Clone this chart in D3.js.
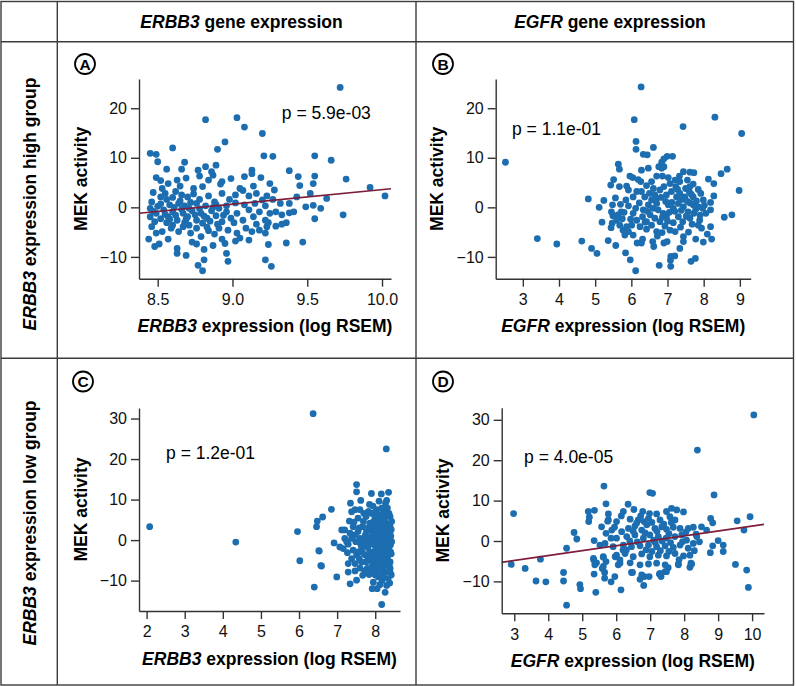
<!DOCTYPE html>
<html>
<head>
<meta charset="utf-8">
<script src="https://cdn.jsdelivr.net/npm/d3@7/dist/d3.min.js"></script>
<style>
html,body{margin:0;padding:0;background:#fff;}
svg{display:block;font-family:"Liberation Sans",Arial,Helvetica,sans-serif;}
</style>
</head>
<body>
<svg id="chart" width="796" height="686"></svg>
<script>
// ---------------- DATA ----------------
const colHeaders = ["ERBB3", "EGFR"];           // italic gene + " gene expression"
const rowHeaders = ["high", "low"];             // "ERBB3 expression <x> group"

// Panel A: ERBB3 high group, x = ERBB3 expression
const aPts = [
[9.72,24.2],[8.82,17.7],[9.03,18.1],[9.08,16.2],[9.20,14.9],
[8.95,13.2],[8.60,12.0],[8.90,11.7],[8.45,10.9],[8.49,10.7],[9.21,10.4],[9.27,10.3],[9.55,10.4],[9.66,9.5],[8.50,9.2],[8.68,9.1],[8.56,7.7],[8.66,7.7],[8.77,7.5],[8.82,8.2],[8.89,8.5],[9.13,7.5],[9.38,7.4],[8.86,7.2],
[8.49,6.0],[8.52,5.4],[8.63,5.5],[8.69,5.9],[8.78,6.3],[8.84,5.5],[8.87,6.5],[8.93,5.2],[8.99,5.8],[9.08,6.2],[9.13,6.8],[9.19,6.0],[9.25,4.8],[9.44,6.2],[9.55,6.3],[9.76,5.7],[9.54,4.8],[9.45,4.4],[9.92,4.0],[8.57,4.8],[8.65,4.3],[8.74,3.8],[8.80,4.2],[8.92,4.7],[9.05,3.8],[9.14,4.3],[8.53,3.8],[8.47,3.0],[9.28,3.5],
[10.02,2.3],[9.52,2.8],[9.63,1.8],[9.54,0.4],[9.49,0.1],[8.52,2.1],[8.56,1.6],[8.60,2.0],[8.65,1.3],[8.70,2.1],[8.74,2.7],[8.78,1.6],[8.84,2.3],[8.88,1.1],[8.93,2.8],[8.98,1.6],[9.02,2.5],[9.07,3.4],[9.11,2.3],[9.16,2.8],[9.20,1.5],[9.23,2.3],[9.27,1.6],[9.32,0.8],[8.52,0.7],[8.58,0.5],[8.64,0.8],[8.68,0.3],[8.76,0.8],[8.82,0.3],[8.89,0.6],[8.96,0.3],[9.02,0.9],[9.08,0.5],[9.15,0.8],[9.22,0.3],[8.46,1.1],[9.38,0.8],[9.43,2.1],
[8.45,-0.2],[8.45,-1.9],[8.49,-1.2],[8.54,-0.5],[8.57,-1.9],[8.60,-0.9],[8.63,-2.6],[8.67,-1.2],[8.70,-1.9],[8.73,-0.7],[8.76,-2.6],[8.79,-1.2],[8.83,-2.2],[8.86,-0.7],[8.89,-1.7],[8.93,-2.9],[8.96,-0.9],[8.99,-2.2],[9.03,-1.2],[9.07,-2.6],[9.11,-0.5],[9.14,-1.9],[9.18,-0.9],[9.22,-2.6],[9.25,-1.2],[9.29,-0.9],[9.33,-1.5],[9.38,-1.1],[9.41,-0.9],[9.59,-0.2],[9.55,-2.3],[9.74,-1.5],[9.36,-3.1],[9.33,-3.4],[8.48,-2.9],[8.56,-3.1],[8.68,-3.1],[8.80,-3.2],[8.90,-3.4],[9.01,-3.1],[9.16,-3.4],[9.24,-3.1],
[8.49,-5.2],[8.53,-4.9],[8.57,-6.4],[8.44,-6.4],[8.59,-4.2],[8.64,-4.9],[8.67,-3.9],[8.72,-5.2],[8.76,-4.2],[8.79,-5.9],[8.84,-4.7],[8.88,-5.4],[8.91,-4.2],[8.93,-6.4],[8.97,-4.6],[9.03,-5.2],[9.05,-6.2],[9.09,-4.2],[9.13,-4.9],[9.18,-4.6],[9.23,-3.9],[9.22,-5.2],[9.29,-3.8],
[8.48,-7.9],[8.51,-7.4],[8.63,-8.3],[8.63,-9.3],[8.69,-9.7],[8.73,-7.0],[8.76,-7.4],[8.81,-8.5],[8.81,-10.6],[8.80,-12.8],[8.77,-11.7],[8.87,-7.7],[8.95,-7.3],[8.97,-10.9],[8.96,-9.3],[9.02,-6.8],[9.11,-6.6],[9.24,-7.5],[9.22,-10.6],[9.26,-11.9],[9.36,-7.2],[9.47,-7.0],
[8.47,-0.8],[8.50,0.2],[8.55,-1.4],[8.58,-2.4],[8.61,0.0],[8.62,-1.6],[8.66,-0.4],[8.69,-2.4],[8.71,-0.2],[8.72,1.0],[8.75,-1.5],[8.78,-0.3],[8.81,-1.8],[8.85,-2.8],[8.87,0.0],[8.91,-0.2],[8.94,-1.6],[8.55,2.8],[8.62,3.2],[8.71,-3.6],[8.83,-4.0],[8.60,-3.6],[8.52,-2.3],[8.66,2.5],[8.46,-3.9]
];

// Panel B: ERBB3 high group, x = EGFR expression
const bPts = [
[2.52,9.1],[3.40,-6.3],[3.94,-7.4],[4.63,-6.8],[4.90,-8.3],[5.05,-9.3],[4.81,1.7],[5.11,0.0],[5.24,1.4],[5.19,-3.0],[5.36,-6.7],[5.57,-7.7],[5.84,-9.2],[5.97,-10.6],[6.12,-12.8],[6.27,24.3],[6.08,17.7],[7.43,16.3],[8.31,18.2],[9.05,14.9],[8.98,3.4],[8.57,-2.0],[8.78,-1.5],[8.48,6.8],[8.65,7.7],[8.13,5.7],[8.28,4.8],[8.28,2.3],[8.19,1.0],[7.99,1.5],[8.19,-0.5],[8.19,-3.9],[8.10,-5.4],[8.22,-6.4],[7.99,-7.0],[7.78,-6.4],[7.77,-10.3],[7.65,-10.9],[7.09,-9.9],[7.20,-9.8],[7.08,-10.7],[7.09,-11.9],[6.77,-11.7],[6.13,13.3],[6.13,11.7],[6.61,12.1],[6.33,10.7],[6.44,10.6],[6.99,10.3],[7.14,10.3],[6.90,9.8],[6.84,9.1],[6.76,8.2],[5.64,8.7],[5.67,7.7],[6.28,7.5],[6.47,7.9],[5.51,5.6],[5.43,4.5],[5.67,4.2],[5.56,1.9],[5.48,0.5],[5.45,-0.9],[5.49,-1.7],[5.47,-3.2],[5.44,-4.1],[5.72,-0.9],[5.75,-2.3],[5.68,-3.6],[5.77,-4.6],[5.82,-5.6],[5.87,-3.9],[5.92,-4.9],[5.85,1.5],[5.92,0.3],[5.96,6.3],[6.04,6.0],[6.19,5.6],[6.26,5.2],[5.87,4.3],[5.92,3.5],[6.15,3.2],[6.28,3.2],[6.42,4.4],[6.56,5.2],[6.70,6.3],[6.86,6.3],[7.02,6.0],[7.21,5.5],[7.33,6.3],[7.44,7.2],[7.62,7.1],[7.73,7.0],[7.55,5.5],[7.71,4.7],[7.85,3.6],[7.92,2.8],[7.97,-0.2],[8.06,-1.2],[7.89,-2.6],[7.85,-3.6],[7.62,-2.2],[7.44,-5.9],[7.44,-6.9],[7.34,-8.3],[6.99,-6.9],[6.90,-7.2],[6.59,-6.9],[6.62,-7.9],[6.31,-6.4],[6.16,-7.2],[6.28,-7.2],[6.85,-5.1],[6.42,-4.4],[6.24,-3.9],[6.05,-1.2],[6.15,-2.6],[6.33,-0.5],[6.47,0.5],[6.56,1.5],[6.65,2.5],[6.79,3.5],[6.90,4.2],[6.97,2.5],[7.11,3.2],[7.23,4.2],[7.34,2.8],[7.48,2.1],[7.60,3.2],[7.71,2.1],[7.80,1.3],[7.62,0.9],[7.44,0.1],[7.30,0.8],[7.16,-0.2],[7.02,0.5],[6.88,-1.2],[6.74,-0.5],[6.65,-2.2],[6.52,-1.5],[6.42,-2.9],[6.79,-2.9],[6.97,-1.9],[7.16,-3.1],[7.30,-1.9],[7.42,-2.9],[7.57,-0.9],[7.73,-1.2],[7.07,-4.6],[7.21,-4.9],[6.93,-3.8],[6.70,-4.9],[6.56,-3.6],[6.31,-1.9],[6.22,0.9],[6.05,2.1],[6.37,2.1],[6.70,0.8],[7.25,2.1],[7.71,0.5],[7.85,0.1],[6.61,3.8],[7.07,4.8],[7.34,5.2],[7.62,4.2],[6.84,7.9],[6.90,8.2],[5.59,-2.6],[5.63,-1.5],[6.01,-3.6],[6.05,-5.6],[7.94,-4.2],
[6.45,-0.8],[6.60,-0.2],[6.68,1.6],[6.82,2.0],[6.95,1.2],[7.05,-1.0],[7.12,1.0],[7.20,-0.8],[7.38,-0.6],[7.40,1.6],[7.52,-1.8],[7.55,1.2],[7.66,2.6],[7.78,-0.4],[6.50,2.8],[6.86,-2.0],[7.00,-2.8],[7.28,3.6],[7.50,3.8],[7.68,-3.4],[6.38,-3.0],[6.12,-0.2],[5.98,-2.4],[5.80,-1.0],[5.70,0.6],[7.90,-1.6],[8.02,0.4],[7.36,-4.0],[6.72,-5.8],[7.58,-5.0]
];

// Panel C: ERBB3 low group, x = ERBB3 expression
const cPts = [
[2.08,3.3],[4.34,-0.5],[6.37,31.2],[8.29,22.5],[5.96,2.1],[6.02,-5.1],[6.40,-11.6],[6.57,-6.3],[6.52,-2.6],[6.46,3.3],[6.48,4.7],[6.62,5.7],[6.85,7.6],[6.99,-9.1],[6.92,-0.7],[7.51,13.7],[7.51,11.9],[7.90,11.5],[8.35,11.8],[8.27,9.1],[7.35,9.1],[8.17,-15.9],[8.05,-12.0],[8.26,-12.9],[8.30,-11.2],[7.34,-10.8],[7.51,-9.9],[7.67,-8.7],[7.84,-8.5],[7.95,-10.4],[7.29,-7.9],[7.47,-7.6],[7.60,-6.9],[7.29,-5.8],[7.07,-1.7],[7.12,2.5],[7.20,2.5],[7.32,4.7],[7.38,7.0],[7.47,7.5],[7.60,7.5],[7.55,5.4],[7.42,3.3],[7.20,0.4],[7.16,-2.1],[7.27,-3.1],[7.38,-4.6],[7.51,-3.7],[7.64,-1.7],[7.73,0.4],[7.77,2.1],[7.86,4.2],[7.90,6.6],[8.04,7.5],[8.17,7.9],[8.24,7.1],[8.39,5.8],[8.43,4.6],[8.39,2.1],[8.43,-0.4],[8.40,-2.9],[8.39,-5.4],[8.39,-7.9],[8.34,-9.5],[8.21,-7.0],[8.08,-5.8],[8.12,-3.7],[8.17,-1.7],[8.21,0.8],[8.12,2.9],[8.05,5.0],[7.95,1.3],[7.99,-1.2],[7.86,-2.9],[7.90,-5.0],[7.77,-5.4],[7.73,-3.6],[7.60,0.4],[7.67,3.3],[7.76,5.8],[8.30,3.3],[8.32,0.8],[8.30,-1.7],[8.28,-4.1],[8.26,-6.2],[8.02,-7.5],[7.93,-6.2],[7.79,-7.0],[8.08,-9.1],[8.21,-9.1],[7.29,-1.0],[7.38,0.4],[7.49,-0.4],[7.55,-2.9],[7.42,-2.5],[7.86,-0.4],[8.05,0.4],[8.17,2.1],[7.97,3.3],[7.86,2.5],[8.25,4.6],[8.32,7.9],[8.12,6.2],[8.02,-2.1],[8.10,-2.7],[8.21,-2.5],[8.34,-1.7],[8.34,-3.7],[8.39,-7.0],[7.95,-2.9],[8.05,-4.7],[8.17,-5.0],[8.24,-0.4],[8.34,0.8],[8.39,3.3],[8.28,5.8],[8.08,4.2],[7.99,5.8],[7.82,7.1],[7.69,4.6],[7.55,2.1],[7.47,1.3],[7.34,1.7],[7.25,-0.4],[7.64,-5.4],[7.47,-5.8],[6.53,-2.7],[6.59,-6.4],
[7.62,-1.0],[7.70,-0.6],[7.74,1.2],[7.80,-1.8],[7.82,0.8],[7.84,3.2],[7.88,-4.2],[7.90,-1.0],[7.92,0.2],[7.94,2.0],[7.96,4.6],[7.98,-3.6],[8.00,-0.6],[8.01,1.8],[8.03,-5.4],[8.04,3.0],[8.06,-1.4],[8.07,0.9],[8.09,-3.0],[8.10,1.6],[8.11,-6.6],[8.13,-0.2],[8.14,3.6],[8.15,-4.3],[8.16,0.2],[8.18,-2.2],[8.19,5.2],[8.20,-1.0],[8.22,2.6],[8.23,-3.3],[8.24,1.4],[8.25,-5.6],[8.27,-1.4],[8.28,0.0],[8.29,2.2],[8.30,-2.8],[8.31,4.0],[8.32,-4.8],[8.33,-0.8],[8.35,1.8],[8.36,-2.4],[8.37,-6.4],[8.38,0.4],[8.40,-1.2],[8.41,1.0],[8.42,-3.4],[8.36,6.6],[8.26,-8.0],[8.14,-7.6],[8.00,-8.6],[8.18,-10.0],[7.88,-8.0],[7.72,-7.6],[7.98,6.8],[8.10,9.6],[7.85,8.8],[7.70,6.6],[7.58,-4.6],[7.66,-3.0],[7.80,-4.8],[7.92,-6.8],[8.06,-6.0],[8.20,-5.0],[8.34,-5.4],[8.42,-8.6],[8.12,-11.0],[7.92,-12.0],[8.38,-10.6],[7.44,4.4],[7.58,3.0],[7.70,-1.4],[8.08,-0.8],[8.26,0.6],[8.42,2.6],[8.22,7.0],[7.94,8.4],[8.30,9.8],[8.16,11.4],[7.62,9.8]
];

// Panel D: ERBB3 low group, x = EGFR expression
const dPts = [
[10.05,31.2],[8.39,22.5],[5.64,13.6],[6.99,12.0],[7.07,11.8],[8.88,11.4],[2.98,6.8],[5.70,9.2],[6.35,9.1],[5.18,7.3],[5.36,7.6],[5.19,4.8],[5.21,5.9],[5.77,6.7],[5.75,4.9],[6.01,4.8],[5.57,3.5],[4.76,2.1],[4.84,0.5],[5.35,0.1],[5.52,-1.0],[5.70,1.9],[5.85,0.7],[4.54,-1.8],[3.77,-4.5],[3.32,-6.8],[2.91,-5.8],[3.64,-9.9],[3.93,-10.1],[4.45,-7.8],[4.45,-9.9],[4.54,-15.9],[4.93,-10.8],[4.95,-11.8],[5.40,-12.7],[5.34,-4.7],[5.37,-5.9],[5.42,-5.4],[5.35,-8.2],[5.62,-3.9],[5.70,-5.1],[5.59,-6.8],[5.66,-7.8],[5.66,-9.2],[5.85,-10.1],[5.96,-8.8],[6.14,-12.1],[5.97,-3.9],[6.11,-4.7],[6.06,-5.9],[6.48,-7.8],[6.70,-9.5],[6.81,-11.0],[6.83,-8.8],[6.97,-8.8],[7.27,-8.2],[7.32,-8.8],[7.44,-7.6],[7.53,-6.6],[7.83,-5.9],[8.20,-5.5],[8.17,-6.5],[8.77,-2.9],[8.84,-1.2],[9.00,0.1],[9.15,-1.0],[9.15,-2.6],[9.51,-5.8],[9.84,-7.2],[9.89,-11.5],[9.76,2.7],[9.56,5.0],[9.94,6.0],[8.78,5.6],[8.84,4.5],[8.51,3.5],[8.66,2.7],[8.35,1.7],
[6.21,7.3],[6.52,7.8],[6.78,7.3],[7.19,6.7],[7.48,7.3],[7.63,8.1],[7.78,7.7],[7.98,7.2],[7.58,6.0],[5.77,5.2],[6.41,5.4],[6.65,5.2],[6.95,5.6],[7.29,5.2],[7.73,5.2],[5.87,2.7],[6.16,2.3],[6.36,3.1],[6.55,3.7],[6.75,2.7],[6.90,4.0],[7.14,3.1],[7.34,3.5],[7.48,2.9],[7.68,3.4],[7.88,3.1],[8.12,3.1],[8.27,3.4],[6.01,0.7],[6.31,1.1],[6.55,1.5],[6.80,0.7],[6.99,1.5],[7.24,1.1],[7.47,0.7],[7.73,1.1],[7.93,1.5],[8.07,0.2],[8.37,1.1],[5.67,-0.6],[5.91,-1.4],[6.21,-1.0],[6.45,-1.4],[6.70,-1.2],[6.95,-1.0],[7.19,-1.4],[7.44,-1.2],[7.68,-1.6],[7.88,-1.0],[8.12,-1.8],[8.27,-0.6],[6.01,-3.5],[6.26,-3.1],[6.50,-3.9],[6.75,-3.2],[6.99,-3.9],[7.24,-3.5],[7.48,-3.7],[7.73,-3.1],[7.98,-3.7],[8.17,-3.5],[5.33,-4.3],[5.62,-4.0],[6.11,-5.5],[6.41,-5.4],[6.70,-5.9],[6.95,-5.7],[7.19,-5.5],[7.44,-5.9],[7.83,-5.7],[8.22,-5.7],[5.62,-6.3],[6.45,-7.8],[6.75,-8.4],[7.29,-8.0],[7.48,-7.6],
[6.60,4.4],[6.85,2.0],[7.05,4.6],[7.10,0.2],[7.20,2.4],[7.35,0.0],[7.40,4.2],[7.55,1.8],[7.60,-0.4],[6.40,0.0],[6.62,-0.2],[6.88,-2.2],[7.05,-2.6],[7.30,-2.4],[7.55,-2.6],[6.30,-2.2],[6.50,2.4],[6.72,6.2],[6.98,6.8],[7.15,-0.4],[6.82,4.8],[7.62,4.6],[7.95,-0.2],[8.05,2.2],[8.30,-2.4],[8.45,-0.2],[6.15,6.2],[5.95,3.4],[6.20,-2.2],[7.85,-4.6]
];

// regression lines [slope, intercept] (only A and D are drawn)
const regA = [2.94, -25.82];
const regD = [1.218, -8.48];

const pValues = ["p = 5.9e-03", "p = 1.1e-01", "p = 1.2e-01", "p = 4.0e-05"];
const pPositions = [[9.33, 17.8], [2.70, 14.6], [2.51, 19.9], [3.29, 19.2]]; // data coords (left, baseline)

const aXTicks = [8.5, 9.0, 9.5, 10.0];
const bXTicks = [3, 4, 5, 6, 7, 8, 9];
const cXTicks = [2, 3, 4, 5, 6, 7, 8];
const dXTicks = [3, 4, 5, 6, 7, 8, 9, 10];
const topYTicks = [-10, 0, 10, 20];
const bottomYTicks = [-10, 0, 10, 20, 30];

// ---------------- LAYOUT ----------------
const svg = d3.select("#chart");
const FONT = '"Liberation Sans", Arial, Helvetica, sans-serif';
const LINE = "#3c3c3c";
const DOT = "#1c6eb0";
const REG = "#7d1d3a";

// table grid
const gx0 = 1, gx1 = 57.3, gx2 = 416, gx3 = 793.5;
const gy0 = 1.5, gy1 = 41.7, gy2 = 358.3, gy3 = 685;
const grid = svg.append("g").attr("stroke", LINE).attr("stroke-width", 1.4).attr("fill", "none");
grid.append("rect").attr("x", gx0).attr("y", gy0).attr("width", gx3 - gx0).attr("height", gy3 - gy0);
[gx1, gx2].forEach(x => grid.append("line").attr("x1", x).attr("x2", x).attr("y1", gy0).attr("y2", gy3));
[gy1, gy2].forEach(y => grid.append("line").attr("x1", gx0).attr("x2", gx3).attr("y1", y).attr("y2", y));

// column headers
const colCenters = [241.5, 610];
colHeaders.forEach((g, i) => {
  const t = svg.append("text").attr("x", colCenters[i]).attr("y", 27.5)
    .attr("text-anchor", "middle").attr("font-weight", "bold").attr("font-size", 17.5).attr("fill", "#000");
  t.append("tspan").attr("font-style", "italic").text(g);
  t.append("tspan").text(" gene expression");
});
// row headers
const rowCenters = [204, 523];
rowHeaders.forEach((r, i) => {
  const t = svg.append("text").attr("transform", `translate(35.5,${rowCenters[i]}) rotate(-90)`)
    .attr("text-anchor", "middle").attr("font-weight", "bold").attr("font-size", 17.5).attr("fill", "#000");
  t.append("tspan").attr("font-style", "italic").text("ERBB3");
  t.append("tspan").text(` expression ${r} group`);
});

const panels = [
  {label: "A", pts: aPts, xDom: [8.375, 10.06], yDom: [-14.4, 25.9], xR: [139, 391], yR: [278.7, 79],
   xTicks: aXTicks, yTicks: topYTicks, fmt: d3.format(".1f"), gene: "ERBB3", reg: regA, idx: 0, circ: [85, 64]},
  {label: "B", pts: bPts, xDom: [2.25, 9.3], yDom: [-14.4, 25.9], xR: [495.7, 750.7], yR: [278.7, 79],
   xTicks: bXTicks, yTicks: topYTicks, fmt: d3.format("d"), gene: "EGFR", reg: null, idx: 1, circ: [443, 64]},
  {label: "C", pts: cPts, xDom: [1.80, 8.65], yDom: [-17.5, 32.6], xR: [139, 400], yR: [611, 408],
   xTicks: cXTicks, yTicks: bottomYTicks, fmt: d3.format("d"), gene: "ERBB3", reg: null, idx: 2, circ: [83, 381.5]},
  {label: "D", pts: dPts, xDom: [2.63, 10.35], yDom: [-17.9, 33.0], xR: [501.7, 764], yR: [613.3, 407.7],
   xTicks: dXTicks, yTicks: bottomYTicks, fmt: d3.format("d"), gene: "EGFR", reg: regD, idx: 3, circ: [443, 381.5]}
];

panels.forEach(p => {
  const x = d3.scaleLinear().domain(p.xDom).range(p.xR);
  const y = d3.scaleLinear().domain(p.yDom).range(p.yR);
  const g = svg.append("g");

  // points
  g.append("g").selectAll("circle").data(p.pts).join("circle")
    .attr("cx", d => x(d[0])).attr("cy", d => y(d[1])).attr("r", 3.4).attr("fill", DOT);

  // regression
  if (p.reg) {
    const [m, b] = p.reg;
    g.append("line")
      .attr("x1", x(p.xDom[0])).attr("y1", y(m * p.xDom[0] + b))
      .attr("x2", x(p.xDom[1])).attr("y2", y(m * p.xDom[1] + b))
      .attr("stroke", REG).attr("stroke-width", 1.7);
  }

  // axes
  const xa = g.append("g").attr("transform", `translate(0,${p.yR[0]})`)
    .call(d3.axisBottom(x).tickValues(p.xTicks).tickFormat(p.fmt).tickSize(8).tickPadding(7).tickSizeOuter(0));
  const ya = g.append("g").attr("transform", `translate(${p.xR[0]},0)`)
    .call(d3.axisLeft(y).tickValues(p.yTicks).tickFormat(d3.format("d")).tickSize(8).tickPadding(4).tickSizeOuter(0));
  [xa, ya].forEach(a => {
    a.select(".domain").attr("stroke", "#333").attr("stroke-width", 1.4);
    a.selectAll(".tick line").attr("stroke", "#333").attr("stroke-width", 1.4);
    a.selectAll(".tick text").attr("font-family", FONT).attr("font-size", 16).attr("fill", "#111");
  });

  // axis titles
  const xt = g.append("text").attr("x", (p.xR[0] + p.xR[1]) / 2).attr("y", p.yR[0] + 53.5)
    .attr("text-anchor", "middle").attr("font-weight", "bold").attr("font-size", 17.5).attr("fill", "#000");
  xt.append("tspan").attr("font-style", "italic").text(p.gene);
  xt.append("tspan").text(" expression (log RSEM)");
  g.append("text").attr("transform", `translate(${p.xR[0] - 52.5},${(p.yR[0] + p.yR[1]) / 2}) rotate(-90)`)
    .attr("text-anchor", "middle").attr("font-weight", "bold").attr("font-size", 17.5).attr("fill", "#000")
    .text("MEK activity");

  // p value
  const pp = pPositions[p.idx];
  g.append("text").attr("x", x(pp[0])).attr("y", y(pp[1])).attr("font-size", 17.5).attr("fill", "#000")
    .text(pValues[p.idx]);

  // panel letter
  g.append("circle").attr("cx", p.circ[0]).attr("cy", p.circ[1]).attr("r", 10)
    .attr("fill", "#fff").attr("stroke", "#000").attr("stroke-width", 1.8);
  g.append("text").attr("x", p.circ[0]).attr("y", p.circ[1] + 5.6)
    .attr("text-anchor", "middle").attr("font-weight", "bold").attr("font-size", 15.5).attr("fill", "#000")
    .text(p.label);
});
</script>
</body>
</html>
